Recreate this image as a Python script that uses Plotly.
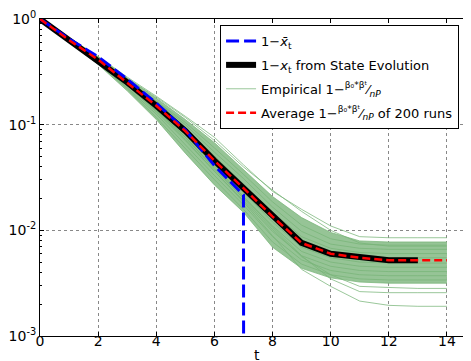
import plotly.graph_objects as go

t = list(range(15))

# state evolution 1 - x_t (t = 0..13)
se = [1, 0.631, 0.412, 0.251, 0.151, 0.0871, 0.0457, 0.0251, 0.0135, 0.0076,
      0.0060, 0.0055, 0.0052, 0.0052]
# 1 - x_bar_t, drops to zero after t = 7
xbar = [1, 0.65, 0.44, 0.27, 0.16, 0.089, 0.041, 0.0216, 1e-300]
# average of the 200 runs
avg = [1, 0.631, 0.412, 0.251, 0.151, 0.0871, 0.0457, 0.0251, 0.0135, 0.0076,
       0.0060, 0.0055, 0.0052, 0.0052, 0.0052]

# a subset of the empirical runs
runs = [
    [1, .661, .442, .282, .186, .120, .0759, .0417, .0234, .0158, .0110, .00871, .00851, .00851, .00851],
    [1, .653, .437, .275, .178, .112, .0676, .0372, .0209, .0132, .00955, .00794, .00776, .00776, .00776],
    [1, .646, .427, .269, .170, .105, .0603, .0339, .0186, .0112, .00832, .00741, .00724, .00724, .00724],
    [1, .646, .427, .263, .166, .100, .0550, .0309, .0166, .00977, .00741, .00676, .00661, .00661, .00661],
    [1, .638, .417, .257, .158, .0933, .0501, .0275, .0148, .00871, .00676, .00617, .00603, .00603, .00603],
    [1, .631, .412, .251, .151, .0871, .0457, .0251, .0135, .00776, .00617, .00562, .00550, .00550, .00550],
    [1, .624, .407, .245, .145, .0813, .0417, .0229, .0120, .00692, .00550, .00501, .00490, .00490, .00490],
    [1, .617, .398, .240, .138, .0759, .0389, .0209, .0110, .00631, .00501, .00457, .00447, .00447, .00447],
    [1, .617, .394, .234, .132, .0708, .0363, .0191, .00977, .00575, .00457, .00417, .00407, .00407, .00407],
    [1, .610, .389, .224, .126, .0646, .0331, .0174, .00871, .00525, .00417, .00380, .00372, .00372, .00372],
    [1, .603, .380, .219, .117, .0589, .0302, .0158, .00776, .00479, .00380, .00347, .00339, .00339, .00339],
    [1, .603, .372, .209, .112, .0537, .0269, .0148, .00692, .00437, .00355, .00324, .00316, .00316, .00316],
    [1, .617, .398, .240, .138, .0759, .0380, .0200, .0102, .00562, .00380, .00295, .00288, .00282, .00282],
    [1, .624, .407, .245, .145, .0794, .0407, .0209, .0107, .00575, .00347, .00263, .00257, .00257, .00257],
    [1, .617, .398, .240, .135, .0724, .0363, .0186, .00891, .00427, .00295, .00214, .00195, .00191, .00191],
    [1, .646, .437, .275, .182, .117, .0708, .0398, .0240, .0151, .0100, .00759, .00708, .00708, .00708],
]

ytick_vals = [1e-3, 1e-2, 1e-1, 1]
ytick_text = ["10<sup>-3</sup>", "10<sup>-2</sup>", "10<sup>-1</sup>", "10<sup>0</sup>"]
xtick_vals = [0, 2, 4, 6, 8, 10, 12, 14]

green = "rgba(120,180,120,0.75)"
frac = "<sup>β₀*βᵗ</sup>⁄<sub><i>nP</i></sub>"
fig = go.Figure()

# dense core of the runs
fig.add_trace(go.Scatter(x=t, y=runs[1], mode="lines", line=dict(width=0),
                         showlegend=False, hoverinfo="skip"))
fig.add_trace(go.Scatter(x=t, y=runs[11], mode="lines", line=dict(width=0),
                         fill="tonexty", fillcolor="rgb(150,196,150)",
                         showlegend=False, hoverinfo="skip"))
for i, r in enumerate(runs):
    fig.add_trace(go.Scatter(
        x=t, y=r, mode="lines", line=dict(color=green, width=1),
        name="Empirical 1−" + frac,
        showlegend=(i == 0), legendrank=3, legendgroup="emp"))

fig.add_trace(go.Scatter(x=t[:len(se)], y=se, mode="lines",
                         line=dict(color="black", width=6), legendgroup="se",
                         name="1−<i>x</i><sub>t</sub> from State Evolution", legendrank=2))
fig.add_trace(go.Scatter(x=t[:len(xbar)], y=xbar, mode="lines",
                         line=dict(color="#0000ff", width=3, dash="13px,5px"),
                         legendgroup="xbar",
                         name="1−<i>x̄</i><sub>t</sub>", legendrank=1))
fig.add_trace(go.Scatter(x=t, y=avg, mode="lines",
                         line=dict(color="red", width=2.5, dash="8px,4px"),
                         legendgroup="avg",
                         name="Average 1−" + frac + " of 200 runs",
                         legendrank=4))

axis_style = dict(ticks="inside", ticklen=4, tickcolor="black", mirror="ticks",
                  showline=True, linecolor="black", linewidth=1, showgrid=True,
                  gridcolor="#888", griddash="dot", gridwidth=1, zeroline=False,
                  automargin=False)

fig.update_layout(
    template="none",
    width=471, height=361,
    margin=dict(l=32, r=3, t=11, b=33),
    font=dict(family="DejaVu Sans", size=14, color="black"),
    plot_bgcolor="white", paper_bgcolor="white",
    legend=dict(x=0.413, y=0.981, xanchor="left", yanchor="top",
                bgcolor="white", bordercolor="black", borderwidth=1,
                font=dict(size=13), traceorder="grouped", tracegroupgap=4),
    xaxis=dict(range=[0, 15], tickvals=xtick_vals, ticklabelstandoff=-8, **axis_style),
    yaxis=dict(type="log", range=[-3, 0], tickvals=ytick_vals, ticktext=ytick_text,
               minor=dict(ticks="inside", ticklen=2, tickcolor="black",
                          tickvals=[m * 10 ** e for e in (-3, -2, -1) for m in range(2, 10)]),
               **axis_style),
    annotations=[dict(text="t", x=7.45, xref="x", y=-0.06, yref="paper",
                      yanchor="middle", borderpad=0, showarrow=False,
                      font=dict(size=14))],
)

fig.write_html("out.html")
